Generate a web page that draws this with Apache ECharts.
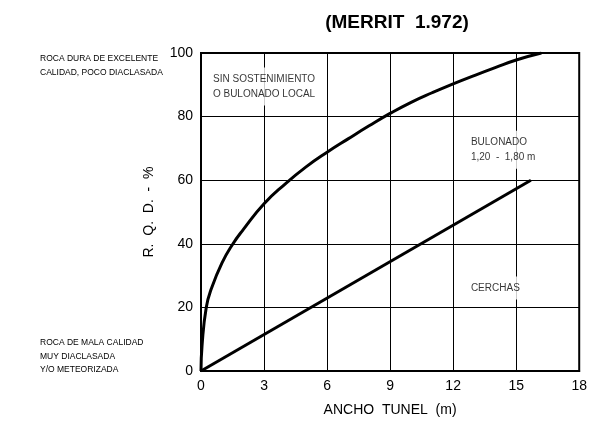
<!DOCTYPE html>
<html>
<head>
<meta charset="utf-8">
<script src="https://cdn.jsdelivr.net/npm/echarts@6/dist/echarts.min.js"></script>
<style>html,body{margin:0;padding:0;background:#fff}#c{width:590px;height:423px}</style>
</head>
<body>
<div id="c"></div>
<script>
// Upper curve: limit between "sin sostenimiento" and "bulonado"
const curveX = [0, 0.05, 0.25, 0.5, 1, 1.5, 2, 3, 4, 5, 6, 7, 8, 9, 10, 11, 12, 13, 14, 15, 16.2];
const curveY = [0, 8, 20, 26, 34, 39.8, 44.4, 52.6, 58.8, 64.2, 68.8, 73, 77.1, 81, 84.5, 87.5, 90.3, 92.9, 95.4, 97.8, 100];
// Lower line: limit between "bulonado" and "cerchas"
const lineX = [0, 15.7];
const lineY = [0, 60];
// Axis ticks
const xTicks = [0, 3, 6, 9, 12, 15, 18];
const yTicks = [0, 20, 40, 60, 80, 100];
// Zone labels and their anchor points (data units)
const zoneText = ['SIN SOSTENIMIENTO\nO BULONADO LOCAL', 'BULONADO\n1,20  -  1,80 m', 'CERCHAS'];
const zoneX = [3, 12.75, 12.75];
const zoneY = [89.5, 69.6, 26.1];
const zoneAlign = ['center', 'left', 'left'];

const FONT = '"Liberation Sans", Arial, sans-serif';
const chart = echarts.init(document.getElementById('c'), null, {renderer: 'canvas'});

const zoneData = zoneText.map((t, i) => ({
  value: [zoneX[i], zoneY[i]],
  label: {formatter: t, align: zoneAlign[i]}
}));

chart.setOption({
  animation: false,
  backgroundColor: '#fff',
  title: {
    text: '(MERRIT  1.972)',
    left: 392, top: 8, textAlign: 'center',
    textStyle: {fontFamily: FONT, fontSize: 19, fontWeight: 'bold', color: '#000'}
  },
  grid: {left: 201, right: 5, top: 53, bottom: 52, show: true, borderColor: '#000', borderWidth: 2},
  xAxis: {
    type: 'value', min: xTicks[0], max: xTicks[xTicks.length - 1], interval: 3,
    name: 'ANCHO  TUNEL  (m)', nameLocation: 'middle', nameGap: 32,
    nameTextStyle: {fontFamily: FONT, fontSize: 14, color: '#000'},
    axisLine: {show: true, lineStyle: {color: '#000', width: 2}},
    axisTick: {show: false},
    axisLabel: {fontFamily: FONT, fontSize: 14, color: '#000', margin: 8},
    splitLine: {show: true, lineStyle: {color: '#000', width: 1}}
  },
  yAxis: {
    type: 'value', min: yTicks[0], max: yTicks[yTicks.length - 1], interval: 20,
    name: 'R.  Q.  D.  -  %', nameLocation: 'middle', nameGap: 45,
    nameTextStyle: {fontFamily: FONT, fontSize: 14, color: '#000'},
    axisLine: {show: true, lineStyle: {color: '#000', width: 2}},
    axisTick: {show: false},
    axisLabel: {fontFamily: FONT, fontSize: 14, color: '#000', margin: 8},
    splitLine: {show: true, lineStyle: {color: '#000', width: 1}}
  },
  series: [
    {
      type: 'line', data: curveX.map((x, i) => [x, curveY[i]]),
      smooth: 0.5, showSymbol: false,
      lineStyle: {color: '#000', width: 3}, z: 3
    },
    {
      type: 'line', data: lineX.map((x, i) => [x, lineY[i]]),
      showSymbol: false, lineStyle: {color: '#000', width: 3}, z: 3
    },
    {
      type: 'scatter', data: zoneData, symbolSize: 0, z: 2,
      label: {
        show: true, position: 'inside', verticalAlign: 'middle',
        fontFamily: FONT, fontSize: 10, color: '#000', lineHeight: 15,
        backgroundColor: '#fff', padding: [4, 2]
      }
    }
  ],
  graphic: [
    {type: 'text', left: 40, top: 52, style: {text: 'ROCA DURA DE EXCELENTE\nCALIDAD, POCO DIACLASADA', font: '8.5px ' + FONT, fill: '#000', lineHeight: 14}},
    {type: 'text', left: 40, top: 336, style: {text: 'ROCA DE MALA CALIDAD\nMUY DIACLASADA\nY/O METEORIZADA', font: '8.5px ' + FONT, fill: '#000', lineHeight: 13.5}}
  ]
});
</script>
</body>
</html>
